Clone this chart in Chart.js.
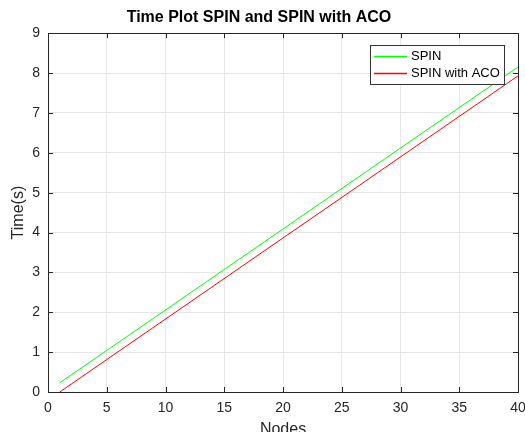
<!DOCTYPE html>
<html>
<head>
<meta charset="utf-8">
<script src="https://cdn.jsdelivr.net/npm/chart.js@4"></script>
<style>
  body { margin: 0; background: #fff; }
  #wrap { width: 525px; height: 432px; overflow: hidden; }
</style>
</head>
<body>
<div id="wrap"><canvas id="plot" width="525" height="432"></canvas></div>
<script>
// values
const nodes = [1, 40];
const spinTimes = [0.23, 8.15];
const spinAcoTimes = [0.0, 7.93];
const seriesNames = ["SPIN", "SPIN with ACO"];
const seriesColors = ["#00ff00", "#ff0000"];
const xTicks = [0, 5, 10, 15, 20, 25, 30, 35, 40];
const yTicks = [0, 1, 2, 3, 4, 5, 6, 7, 8, 9];

const fontFam = "'Liberation Sans', Arial, Helvetica, sans-serif";
const axisColor = "#262626";

function toPoints(xs, ys) {
    let pts = [];
    for (let i = 0; i < xs.length; i++) pts.push({ x: xs[i], y: ys[i] });
    return pts;
}

// box round the axes, inward ticks on all sides, legend in the corner
const matlabAxes = {
    id: "matlabAxes",
    afterDatasetsDraw(chart) {
        const ctx = chart.ctx;
        const a = chart.chartArea;
        const xs = chart.scales.x;
        const ys = chart.scales.y;
        const tl = 5;
        ctx.save();
        ctx.strokeStyle = axisColor;
        ctx.lineWidth = 1;
        ctx.beginPath();
        xTicks.forEach(v => {
            const px = Math.round(xs.getPixelForValue(v)) + 0.5;
            ctx.moveTo(px, a.bottom); ctx.lineTo(px, a.bottom - tl);
            ctx.moveTo(px, a.top); ctx.lineTo(px, a.top + tl);
        });
        yTicks.forEach(v => {
            const py = Math.round(ys.getPixelForValue(v)) + 0.5;
            ctx.moveTo(a.left, py); ctx.lineTo(a.left + tl, py);
            ctx.moveTo(a.right, py); ctx.lineTo(a.right - tl, py);
        });
        ctx.stroke();
        ctx.strokeRect(Math.round(a.left) + 0.5, Math.round(a.top) + 0.5,
            Math.round(a.right - a.left), Math.round(a.bottom - a.top));

        // legend
        const bx = 370.5, by = 45.5, bw = 134, bh = 39;
        ctx.fillStyle = "#fff";
        ctx.fillRect(bx, by, bw, bh);
        ctx.strokeStyle = "#333";
        ctx.strokeRect(bx, by, bw, bh);
        ctx.font = "13px " + fontFam;
        ctx.textBaseline = "middle";
        for (let i = 0; i < seriesNames.length; i++) {
            const ry = 56.5 + i * 17;
            ctx.strokeStyle = seriesColors[i];
            ctx.lineWidth = 1.4;
            ctx.beginPath();
            ctx.moveTo(374, ry); ctx.lineTo(407, ry);
            ctx.stroke();
            ctx.fillStyle = "#000";
            ctx.fillText(seriesNames[i], 411, ry);
        }
        ctx.restore();
    }
};

new Chart(document.getElementById("plot"), {
    type: "line",
    data: {
        datasets: [
            { label: seriesNames[0], data: toPoints(nodes, spinTimes), borderColor: seriesColors[0], borderWidth: 1, pointRadius: 0, fill: false },
            { label: seriesNames[1], data: toPoints(nodes, spinAcoTimes), borderColor: seriesColors[1], borderWidth: 1, pointRadius: 0, fill: false }
        ]
    },
    options: {
        responsive: false,
        animation: false,
        layout: { padding: { right: 7 } },
        plugins: {
            legend: { display: false },
            tooltip: { enabled: false },
            title: {
                display: true,
                text: "Time Plot SPIN and SPIN with ACO",
                color: "#000",
                font: { family: fontFam, size: 16, weight: "bold" },
                padding: { top: 8, bottom: 6 }
            }
        },
        scales: {
            x: {
                type: "linear",
                min: 0, max: 40,
                afterFit: s => { s.height = 40; s.paddingLeft = 0; s.paddingRight = 0; },
                afterBuildTicks: s => { s.ticks = xTicks.map(v => ({ value: v })); },
                grid: { color: "#e6e6e6", drawTicks: false },
                border: { display: false },
                ticks: { color: axisColor, padding: 8, font: { family: fontFam, size: 14 } },
                title: { display: true, text: "Nodes", color: axisColor, padding: { top: 0, bottom: -7 }, font: { family: fontFam, size: 16 } }
            },
            y: {
                min: 0, max: 9,
                afterFit: s => { s.width = 48; s.paddingTop = 0; s.paddingBottom = 0; },
                afterBuildTicks: s => { s.ticks = yTicks.map(v => ({ value: v })); },
                grid: { color: "#e6e6e6", drawTicks: false },
                border: { display: false },
                ticks: { color: axisColor, padding: 8, font: { family: fontFam, size: 14 } },
                title: { display: true, text: "Time(s)", color: axisColor, padding: { top: 9, bottom: 0 }, font: { family: fontFam, size: 16 } }
            }
        }
    },
    plugins: [matlabAxes]
});
</script>
</body>
</html>
